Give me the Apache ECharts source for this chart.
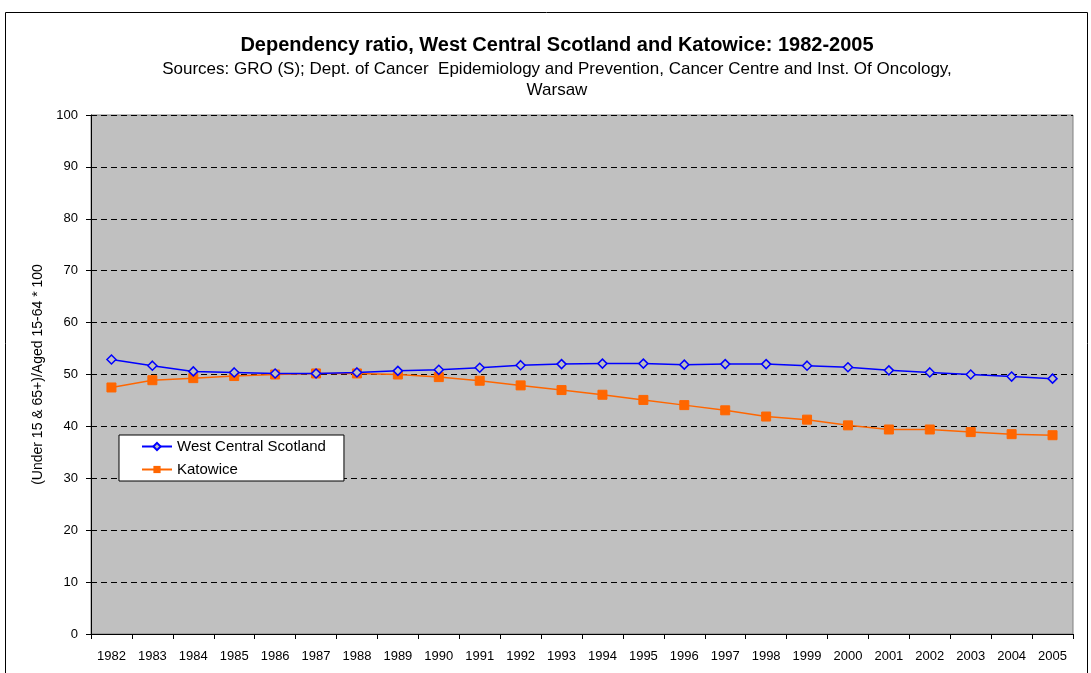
<!DOCTYPE html>
<html>
<head>
<meta charset="utf-8">
<script src="https://cdn.jsdelivr.net/npm/echarts@6/dist/echarts.min.js"></script>
<style>
html,body{margin:0;padding:0;background:#fff;}
#chart{width:1091px;height:673px;}
</style>
</head>
<body>
<div id="chart"></div>
<script>
var years = ['1982','1983','1984','1985','1986','1987','1988','1989','1990','1991','1992','1993','1994','1995','1996','1997','1998','1999','2000','2001','2002','2003','2004','2005'];
var westCentralScotland = [52.9,51.7,50.6,50.4,50.2,50.2,50.4,50.7,50.9,51.3,51.8,52.0,52.1,52.1,51.9,52.0,52.0,51.7,51.4,50.8,50.4,50.0,49.6,49.2];
var katowice = [47.5,48.9,49.3,49.7,50.0,50.2,50.2,50.0,49.5,48.8,47.9,47.0,46.1,45.1,44.1,43.1,41.9,41.3,40.2,39.4,39.4,38.9,38.5,38.3];
var titleText = 'Dependency ratio, West Central Scotland and Katowice: 1982-2005';
var subText = 'Sources: GRO (S); Dept. of Cancer  Epidemiology and Prevention, Cancer Centre and Inst. Of Oncology,\nWarsaw';
var yAxisName = '(Under 15 & 65+)/Aged 15-64 * 100';

var font = 'Liberation Sans, Arial, sans-serif';
var chart = echarts.init(document.getElementById('chart'));
chart.setOption({
  animation: false,
  textStyle: {fontFamily: font},
  graphic: [{
    type: 'rect', z: -10,
    shape: {x: 5.5, y: 12.5, width: 1082, height: 700},
    style: {fill: '#fff', stroke: '#000', lineWidth: 1}
  }],
  title: {
    text: titleText,
    subtext: subText,
    left: 552, textAlign: 'center',
    top: 30,
    itemGap: 4,
    textStyle: {fontSize: 20, fontWeight: 'bold', color: '#000', fontFamily: font},
    subtextStyle: {fontSize: 17, color: '#000', lineHeight: 21, fontFamily: font}
  },
  legend: {
    orient: 'vertical',
    left: 119, top: 435,
    padding: [4, 18, 4, 22],
    itemGap: 8,
    itemWidth: 30, itemHeight: 9,
    backgroundColor: '#fff',
    borderColor: '#000', borderWidth: 1,
    textStyle: {fontSize: 15, color: '#000', fontFamily: font},
    data: ['West Central Scotland', 'Katowice']
  },
  grid: {
    left: 91, right: 18, top: 115, bottom: 39,
    show: true, backgroundColor: '#C0C0C0', borderColor: '#808080', borderWidth: 1
  },
  xAxis: {
    type: 'category',
    data: years,
    boundaryGap: true,
    axisLine: {lineStyle: {color: '#000', width: 1}},
    axisTick: {show: true, interval: 0, length: 5, lineStyle: {color: '#000'}},
    axisLabel: {interval: 0, color: '#000', fontSize: 13, margin: 16, fontFamily: font}
  },
  yAxis: {
    type: 'value',
    min: 0, max: 100, interval: 10,
    name: yAxisName,
    nameLocation: 'middle',
    nameRotate: 90,
    nameGap: 45,
    nameTextStyle: {fontSize: 14, color: '#000', fontFamily: font},
    axisLine: {show: true, lineStyle: {color: '#000', width: 1}},
    axisTick: {show: true, length: 5, lineStyle: {color: '#000'}},
    axisLabel: {color: '#000', fontSize: 13, margin: 13, fontFamily: font},
    splitLine: {show: true, lineStyle: {color: '#000', type: [6, 4], width: 1}}
  },
  series: [{
    name: 'West Central Scotland',
    type: 'line',
    data: westCentralScotland,
    symbol: 'diamond',
    symbolSize: 9,
    lineStyle: {color: '#0000FF', width: 1.5},
    itemStyle: {color: '#C0C0C0', borderColor: '#0000FF', borderWidth: 1.5},
    z: 3
  }, {
    name: 'Katowice',
    type: 'line',
    data: katowice,
    symbol: 'rect',
    symbolSize: 9,
    lineStyle: {color: '#FF6600', width: 1.5},
    itemStyle: {color: '#FF6600', borderColor: '#FF6600'},
    z: 2
  }]
});
</script>
</body>
</html>
